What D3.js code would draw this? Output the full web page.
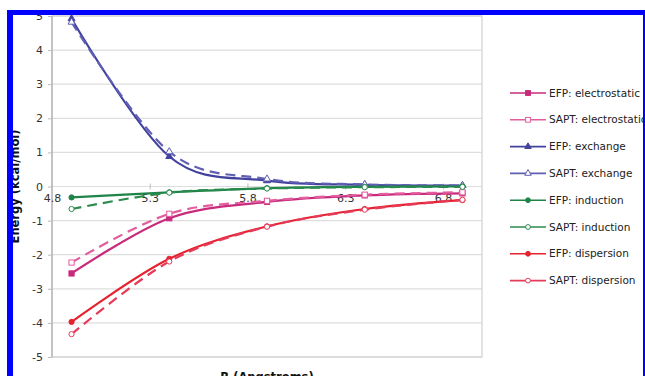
<!DOCTYPE html>
<html>
<head>
<meta charset="utf-8">
<script src="https://cdn.jsdelivr.net/npm/d3@7"></script>
<style>
  body { margin: 0; background: #fff; }
  svg { display: block; font-family: "DejaVu Sans", Verdana, sans-serif; }
  .tick text { fill: #333; }
</style>
</head>
<body>
<div id="chart"></div>
<script>
const distances = [4.8, 5.3, 5.8, 6.3, 6.8];
const xTickValues = [4.7, 5.2, 5.7, 6.2, 6.7];
const xTickLabels = ["4.8", "5.3", "5.8", "6.3", "6.8"];
const yTicks = [-5, -4, -3, -2, -1, 0, 1, 2, 3, 4, 5];

const efpElectrostatic = [-2.55, -0.93, -0.45, -0.26, -0.2];
const saptElectrostatic = [-2.23, -0.8, -0.42, -0.24, -0.17];
const efpExchange = [4.92, 0.88, 0.17, 0.05, 0.03];
const saptExchange = [4.82, 1.02, 0.22, 0.06, 0.03];
const efpInduction = [-0.32, -0.17, -0.05, -0.01, 0];
const saptInduction = [-0.66, -0.18, -0.06, -0.02, -0.01];
const efpDispersion = [-3.97, -2.12, -1.17, -0.66, -0.4];
const saptDispersion = [-4.33, -2.2, -1.18, -0.68, -0.39];

const seriesNames = [
  "EFP: electrostatic", "SAPT: electrostatic",
  "EFP: exchange", "SAPT: exchange",
  "EFP: induction", "SAPT: induction",
  "EFP: dispersion", "SAPT: dispersion"
];
const seriesValues = [
  efpElectrostatic, saptElectrostatic,
  efpExchange, saptExchange,
  efpInduction, saptInduction,
  efpDispersion, saptDispersion
];

// look of each series: colour, marker, dashed or not
const styles = [
  { color: "#c82a7c", marker: "square", open: false, dashed: false },
  { color: "#e35c9e", marker: "square", open: true, dashed: true },
  { color: "#42429e", marker: "triangle", open: false, dashed: false },
  { color: "#5f5fb4", marker: "triangle", open: true, dashed: true },
  { color: "#1f8447", marker: "circle", open: false, dashed: false },
  { color: "#2b8a4e", marker: "circle", open: true, dashed: true },
  { color: "#e6222e", marker: "circle", open: false, dashed: false },
  { color: "#e63a5a", marker: "circle", open: true, dashed: true }
];

const width = 645;
const height = 376;
const margin = { top: 16, left: 52 };
const plotW = 430;
const plotH = 341;

const svg = d3.select("#chart").append("svg")
  .attr("width", width)
  .attr("height", height);

const x = d3.scaleLinear().domain([4.7, 6.9]).range([margin.left, margin.left + plotW]);
const y = d3.scaleLinear().domain([-5, 5]).range([margin.top + plotH, margin.top]);

// grid
svg.append("g")
  .attr("class", "grid")
  .selectAll("line")
  .data(yTicks)
  .join("line")
  .attr("x1", margin.left)
  .attr("x2", margin.left + plotW)
  .attr("y1", d => y(d))
  .attr("y2", d => y(d))
  .attr("stroke", "#dedede")
  .attr("stroke-width", 1.2);

// frame
svg.append("rect")
  .attr("x", margin.left)
  .attr("y", margin.top)
  .attr("width", plotW)
  .attr("height", plotH)
  .attr("fill", "none")
  .attr("stroke", "#d0d0d0")
  .attr("stroke-width", 1.2);
svg.append("line")
  .attr("x1", margin.left).attr("x2", margin.left)
  .attr("y1", margin.top).attr("y2", margin.top + plotH)
  .attr("stroke", "#b8b8b8")
  .attr("stroke-width", 1.5);

// y axis, plain hyphen for negatives like the original
const yAxis = svg.append("g")
  .attr("transform", "translate(" + margin.left + ",0)")
  .call(d3.axisLeft(y).tickValues(yTicks).tickSize(4).tickPadding(5).tickFormat(d => String(d)));
yAxis.select(".domain").remove();
yAxis.selectAll(".tick line").attr("stroke", "#bbb");
yAxis.selectAll("text").attr("font-size", 11).style("font-family", "DejaVu Sans");

// x axis sits on zero line
const xAxis = svg.append("g")
  .attr("transform", "translate(0," + y(0) + ")")
  .call(d3.axisBottom(x).tickValues(xTickValues).tickSize(0).tickPadding(8)
    .tickFormat((d, i) => xTickLabels[i]));
xAxis.select(".domain").remove();
xAxis.selectAll("text").attr("font-size", 11).style("font-family", "DejaVu Sans");
xAxis.selectAll(".tick").append("line")
  .attr("y1", -3).attr("y2", 3)
  .attr("stroke", "#bbb");

// lines
const line = d3.line()
  .x((d, i) => x(distances[i]))
  .y(d => y(d))
  .curve(d3.curveCardinal.tension(0));

const charts = svg.append("g").attr("class", "charts");

function drawMarker(g, st, cx, cy, s) {
  const fill = st.open ? "#fff" : st.color;
  if (st.marker === "square") {
    g.append("rect")
      .attr("x", cx - s).attr("y", cy - s)
      .attr("width", 2 * s).attr("height", 2 * s)
      .attr("fill", fill).attr("stroke", st.color).attr("stroke-width", 1);
  } else if (st.marker === "triangle") {
    g.append("path")
      .attr("d", d3.symbol(d3.symbolTriangle, s * s * 3.2)())
      .attr("transform", "translate(" + cx + "," + cy + ")")
      .attr("fill", fill).attr("stroke", st.color).attr("stroke-width", 1);
  } else {
    g.append("circle")
      .attr("cx", cx).attr("cy", cy).attr("r", s)
      .attr("fill", fill).attr("stroke", st.color).attr("stroke-width", 1);
  }
}

seriesValues.forEach((vals, k) => {
  const st = styles[k];
  const g = charts.append("g");
  g.append("path")
    .attr("d", line(vals))
    .attr("fill", "none")
    .attr("stroke", st.color)
    .attr("stroke-width", 2.2)
    .attr("stroke-dasharray", st.dashed ? "10,6" : null);
  vals.forEach((v, i) => drawMarker(g, st, x(distances[i]), y(v), 2.6));
});

// legend
const legend = svg.append("g").attr("class", "legend");
seriesNames.forEach((name, k) => {
  const st = styles[k];
  const ly = 93 + k * 26.8;
  const item = legend.append("g");
  item.append("line")
    .attr("x1", 510).attr("x2", 546)
    .attr("y1", ly).attr("y2", ly)
    .attr("stroke", st.color)
    .attr("stroke-width", 1.6);
  drawMarker(item, st, 528, ly, 2.4);
  item.append("text")
    .attr("x", 549)
    .attr("y", ly)
    .attr("dy", "0.35em")
    .attr("font-size", 10.5)
    .attr("fill", "#222")
    .text(name);
});

// axis titles
svg.append("text")
  .attr("transform", "translate(19," + (margin.top + plotH / 2) + ") rotate(-90)")
  .attr("text-anchor", "middle")
  .attr("font-size", 11.5)
  .attr("font-weight", "bold")
  .attr("fill", "#111")
  .text("Energy (kcal/mol)");

svg.append("text")
  .attr("x", margin.left + plotW / 2)
  .attr("y", 381)
  .attr("text-anchor", "middle")
  .attr("font-size", 11.5)
  .attr("font-weight", "bold")
  .attr("fill", "#111")
  .text("R (Angstroms)");

// blue frame of the figure
const frame = svg.append("g").attr("fill", "#0000ff");
frame.append("rect").attr("x", 7).attr("y", 10).attr("width", 6).attr("height", height - 10);
frame.append("rect").attr("x", 7).attr("y", 10).attr("width", width - 7).attr("height", 5);
frame.append("rect").attr("x", 643).attr("y", 10).attr("width", 2).attr("height", height - 10);
</script>
</body>
</html>
